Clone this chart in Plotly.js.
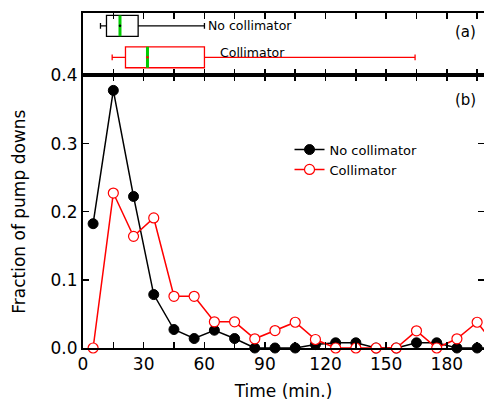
<!DOCTYPE html>
<html><head><meta charset="utf-8">
<script src="https://cdn.plot.ly/plotly-3.0.1.min.js"></script>
<style>html,body{margin:0;padding:0;background:#fff}#chart{width:484px;height:401px}</style>
</head><body><div id="chart"></div>
<script>
// Panel (b): fraction of pump downs vs time
const timeMin = [5,15,25,35,45,55,65,75,85,95,105,115,125,135,145,155,165,175,185,195,205];
const noCollimator = [0.1824,0.378,0.2224,0.0784,0.0271,0.0139,0.0261,0.0139,0,0,0,0.005,0.0076,0.0076,0,0,0.0076,0.0076,0,0,0];
const collimator = [0,0.2274,0.1638,0.1908,0.0759,0.0759,0.0384,0.0384,0.0135,0.0256,0.0378,0.0125,0,0,0,0,0.0252,0,0.0135,0.0378,0];
const seriesNames = ['No collimator','Collimator'];

// Panel (a): box summaries (minutes)
const boxNames = ['No collimator','Collimator'];
const boxPos = [0.794, 0.29];
const boxLower = [8.65, 14.43];
const boxQ1 = [11.62, 21.02];
const boxMedian = [18.3, 31.9];
const boxQ3 = [27.28, 60.09];
const boxUpper = [60.09, 164.3];
const boxColors = ['#000000', '#ff0000'];
const boxWidth = 0.335;

const FONT = 'DejaVu Sans, Arial, sans-serif';
const traces = [];

traces.push({
  type:'scatter', mode:'lines+markers', x: timeMin, y: noCollimator, name: seriesNames[0],
  line:{color:'#000', width:1.5}, marker:{symbol:'circle', size:10, color:'#000', line:{color:'#000', width:1}},
  cliponaxis:false, xaxis:'x', yaxis:'y'
});
traces.push({
  type:'scatter', mode:'lines+markers', x: timeMin, y: collimator, name: seriesNames[1],
  line:{color:'#ff0000', width:1.5}, marker:{symbol:'circle', size:10, color:'#fff', line:{color:'#ff0000', width:1.2}},
  cliponaxis:false, xaxis:'x', yaxis:'y'
});

for (let i = 0; i < boxNames.length; i++) {
  traces.push({
    type:'box', orientation:'h', name: boxNames[i], showlegend:false,
    y:[boxPos[i]], q1:[boxQ1[i]], median:[boxMedian[i]], q3:[boxQ3[i]],
    lowerfence:[boxLower[i]], upperfence:[boxUpper[i]],
    width: boxWidth, whiskerwidth: 0.28, boxpoints:false,
    line:{color: boxColors[i], width:1.3}, fillcolor:'rgba(255,255,255,0)',
    xaxis:'x2', yaxis:'y2', hoverinfo:'skip'
  });
  traces.push({
    type:'scatter', mode:'lines', showlegend:false, hoverinfo:'skip',
    x:[boxMedian[i], boxMedian[i]], y:[boxPos[i]-boxWidth/2, boxPos[i]+boxWidth/2],
    line:{color:'#00cc00', width:3}, xaxis:'x2', yaxis:'y2'
  });
  traces.push({
    type:'scatter', mode:'markers', showlegend:false, hoverinfo:'skip',
    x:[boxMedian[i]], y:[boxPos[i]],
    marker:{size:2.5, color: boxColors[i]}, xaxis:'x2', yaxis:'y2'
  });
}

const xr = [0, 198.4];
const split = 0.8137;
const axCommon = {
  showline:true, linecolor:'#000', linewidth:2, mirror:'allticks',
  ticks:'inside', ticklen:6, tickwidth:1.5, tickcolor:'#000',
  showgrid:false, zeroline:false
};

const layout = {
  width:484, height:401,
  margin:{l:83, r:0, t:13, b:52.5, pad:0},
  paper_bgcolor:'#fff', plot_bgcolor:'#fff',
  font:{family:FONT, color:'#000', size:17},
  showlegend:true,
  legend:{x:0.515, y:0.637, xanchor:'left', yanchor:'top', bgcolor:'rgba(0,0,0,0)',
          font:{family:FONT, size:13, color:'#000'}, tracegroupgap:0},
  xaxis: Object.assign({}, axCommon, {
    anchor:'y', range:xr, dtick:30, tick0:0,
    minor:{dtick:15, tick0:0, ticks:'inside', ticklen:6, tickwidth:1.5, tickcolor:'#000'},
    tickfont:{family:FONT, size:17, color:'#000'},
    title:{text:'Time (min.)', font:{family:FONT, size:17, color:'#000'}, standoff:13}
  }),
  yaxis: Object.assign({}, axCommon, {
    domain:[0, split], range:[0, 0.4], dtick:0.1, tickformat:'.1f',
    tickfont:{family:FONT, size:17, color:'#000'},
    title:{text:'Fraction of pump downs', font:{family:FONT, size:17, color:'#000'}, standoff:21}
  }),
  xaxis2: Object.assign({}, axCommon, {
    anchor:'y2', range:xr, dtick:15, tick0:0, showticklabels:false, matches:'x'
  }),
  yaxis2: Object.assign({}, axCommon, {
    domain:[split, 1], range:[0, 1], ticks:'', showticklabels:false, mirror:true
  }),
  annotations:[
    {text:'(a)', xref:'paper', yref:'paper', x:0.955, y:0.943, xanchor:'center', yanchor:'middle', showarrow:false,
     font:{family:FONT, size:15, color:'#000'}},
    {text:'(b)', xref:'paper', yref:'paper', x:0.955, y:0.741, xanchor:'center', yanchor:'middle', showarrow:false,
     font:{family:FONT, size:15, color:'#000'}},
    {text:'No collimator', xref:'x2', yref:'y2', x:60.7, y:boxPos[0], xanchor:'left', yanchor:'middle', showarrow:false,
     font:{family:FONT, size:12.5, color:'#000'}},
    {text:'Collimator', xref:'x2', yref:'y2', x:67, y:0.37, xanchor:'left', yanchor:'middle', showarrow:false,
     font:{family:FONT, size:12.5, color:'#000'}}
  ]
};

Plotly.newPlot('chart', traces, layout, {displayModeBar:false, staticPlot:true});
</script>
</body></html>
